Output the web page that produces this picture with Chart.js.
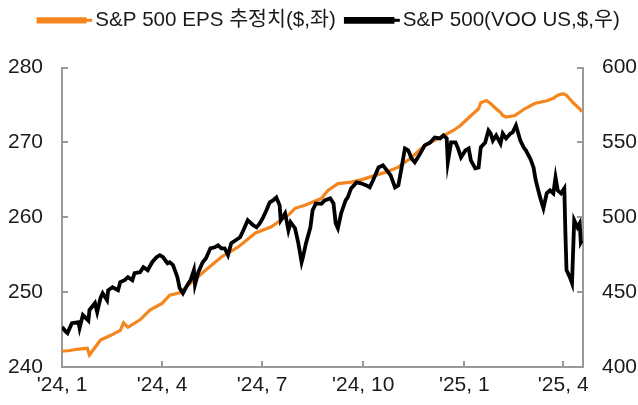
<!DOCTYPE html>
<html>
<head>
<meta charset="utf-8">
<script src="https://cdn.jsdelivr.net/npm/chart.js@4.4.1/dist/chart.umd.min.js"></script>
<style>
html,body{margin:0;padding:0;background:#fff;}
#wrap{width:638px;height:405px;position:relative;}
</style>
</head>
<body>
<div id="wrap"><canvas id="c" width="638" height="405"></canvas></div>
<script>
// x values: days since 2024-01-01
const seriesNames = ["S&P 500 EPS 추정치($,좌)", "S&P 500(VOO US,$,우)"];
const xTickDays = [0, 91, 182, 274, 366, 456];
const xTickLabels = ["'24, 1", "'24, 4", "'24, 7", "'24, 10", "'25, 1", "'25, 4"];

const epsDays = [0,7,15,23,25,30,35,44,53,56,60,71,80,91,98,107,117,127,145,160,176,190,206,212,221,236,242,251,263,272,285,294,306,318,330,342,356,362,370,379,381,386,390,392,395,399,401,404,412,421,430,442,447,451,456,459,465,471,473];
const epsValues = [242.1,242.2,242.4,242.5,241.6,242.6,243.6,244.2,244.9,245.9,245.3,246.3,247.6,248.5,249.6,249.9,251.2,252.5,254.7,256.0,257.9,258.7,260.3,261.2,261.6,262.5,263.6,264.5,264.7,265.0,265.6,266.0,266.7,268.0,269.6,270.5,271.6,272.2,273.3,274.5,275.3,275.6,275.2,274.9,274.5,274.0,273.6,273.4,273.6,274.5,275.2,275.6,275.9,276.3,276.5,276.3,275.3,274.5,274.1];

const vooDays = [0,3,5,9,15,16,19,24,25,30,32,35,37,41,42,46,51,53,57,60,64,66,71,74,78,82,86,89,92,96,98,101,105,107,110,114,117,120,121,124,128,131,135,139,142,145,148,151,154,158,162,165,169,174,177,180,183,186,189,192,195,198,199,203,206,208,212,215,218,219,222,226,228,231,236,239,244,247,249,251,254,258,260,263,268,272,277,280,283,288,292,297,299,303,306,309,312,315,318,321,326,330,335,339,344,347,350,351,354,358,360,363,367,370,372,376,379,381,385,388,390,392,395,399,401,404,408,410,413,417,420,422,426,429,431,435,438,441,444,447,449,451,454,457,458,459,462,464,466,469,471,472,473];
const vooValues = [426.7,424,422.7,429.3,430,426,434.7,431,438,442.7,436.7,446,449.3,444.7,451.3,453.3,451.3,456.7,458,460,458,462.7,463.3,466.7,464.7,470,473.3,474.7,473.3,469.3,470,468,460,452.7,449.3,454.7,458,464.7,455,463.3,470,472.7,479.3,480,481.3,479.3,479.3,474.7,482.7,484.7,486.7,491.3,498,494.7,493.3,496,500,504.7,510,511.3,513.3,508,498,502.7,491.3,496.7,492.7,482.7,470,472.7,482.7,493.3,504.7,509.3,509,511.3,512.7,509.3,496,492.7,502.7,511.3,513.3,519.3,523.3,522.7,521.3,520,524.7,533.3,534.7,530,528,520,521.3,533.3,546,544.7,539.3,536.7,542.7,548,550,553.3,552.7,554.7,552.7,536.7,550,550,546.7,540,544.7,546,538,532.7,533.3,546.7,550,558,556,551.3,554.7,549.3,556,552.7,556,556.7,561.3,551.3,546.7,544.7,539.3,533.3,524.7,513.3,506,516,518,516,526.7,518,516,519.3,489.3,464.7,460,456,498,493.3,496,483.3,484.7];

const FONT = "'Liberation Sans', 'Noto Sans CJK KR', Arial, sans-serif";
const ORANGE = '#F5861F';
const AXIS = '#999999';
const BOXW = 46.7;
const LEG_FONT = 20.6;
const LEG_SHIFT = 10;

const toXY = (xs, ys) => xs.map((d, i) => ({x: d, y: ys[i]}));

const legendTweaks = {
  id: 'legendTweaks',
  beforeInit(chart) {
    const lg = chart.legend;
    const orig = lg.fit;
    lg.fit = function () { orig.call(this); this.height += 27; };
  },
  afterLayout(chart) {
    const lg = chart.legend;
    lg.left += LEG_SHIFT; lg.right += LEG_SHIFT;
  },
  // extend legend line samples toward the text
  afterDraw(chart) {
    const lg = chart.legend, ctx = chart.ctx;
    if (!lg || !lg.legendHitBoxes) return;
    ctx.save();
    lg.legendHitBoxes.forEach((hb, i) => {
      const item = lg.legendItems[i];
      ctx.fillStyle = item.fillStyle;
      const y = hb.top + (hb.height - 3) / 2;
      ctx.fillRect(hb.left, y, BOXW + LEG_FONT / 2 - 3, 3);
    });
    ctx.restore();
  }
};

const innerTicks = {
  id: 'innerTicks',
  afterDraw(chart) {
    const ctx = chart.ctx, a = chart.chartArea;
    ctx.save();
    ctx.strokeStyle = AXIS;
    ctx.lineWidth = 2;
    const L = 6;
    const xs = chart.scales.x, yl = chart.scales.yL, yr = chart.scales.yR;
    xs.ticks.forEach(t => {
      const px = Math.round(xs.getPixelForValue(t.value));
      ctx.beginPath(); ctx.moveTo(px, a.bottom); ctx.lineTo(px, a.bottom - L); ctx.stroke();
    });
    yl.ticks.forEach(t => {
      const py = Math.round(yl.getPixelForValue(t.value));
      ctx.beginPath(); ctx.moveTo(a.left, py); ctx.lineTo(a.left + L, py); ctx.stroke();
    });
    yr.ticks.forEach(t => {
      const py = Math.round(yr.getPixelForValue(t.value));
      ctx.beginPath(); ctx.moveTo(a.right, py); ctx.lineTo(a.right - L, py); ctx.stroke();
    });
    ctx.restore();
  }
};

new Chart(document.getElementById('c'), {
  type: 'line',
  data: {
    datasets: [
      {
        label: seriesNames[0],
        data: toXY(epsDays, epsValues),
        borderColor: ORANGE, backgroundColor: ORANGE,
        borderWidth: 3.2, pointRadius: 0, tension: 0,
        yAxisID: 'yL', order: 1
      },
      {
        label: seriesNames[1],
        data: toXY(vooDays, vooValues),
        borderColor: '#000', backgroundColor: '#000',
        borderWidth: 3.8, pointRadius: 0, tension: 0,
        yAxisID: 'yR', order: 0
      }
    ]
  },
  options: {
    responsive: false,
    animation: false,
    devicePixelRatio: 1,
    layout: { padding: { left: 0, right: 0, top: 0, bottom: 0 } },
    plugins: {
      legend: {
        position: 'top',
        align: 'center',
        labels: {
          boxWidth: BOXW, boxHeight: 3,
          color: '#1a1a1a',
          font: { family: FONT, size: LEG_FONT },
          padding: 10,
          sort: (a, b) => a.datasetIndex - b.datasetIndex
        }
      },
      tooltip: { enabled: false }
    },
    scales: {
      x: {
        type: 'linear', min: 0, max: 474,
        afterBuildTicks: s => { s.ticks = xTickDays.map(v => ({value: v})); },
        afterFit: s => { s.height = 38; },
        ticks: {
          autoSkip: false, maxRotation: 0,
          color: '#1a1a1a', font: { family: FONT, size: 21 }, padding: 6,
          callback: v => { const i = xTickDays.indexOf(v); return i >= 0 ? xTickLabels[i] : ''; }
        },
        grid: { drawOnChartArea: false, drawTicks: false },
        border: { color: AXIS, width: 2 }
      },
      yL: {
        position: 'left', min: 240, max: 280,
        afterFit: s => { s.width = 62; },
        ticks: { stepSize: 10, color: '#1a1a1a', font: { family: FONT, size: 21 }, padding: 19 },
        grid: { drawOnChartArea: false, drawTicks: false },
        border: { color: AXIS, width: 2 }
      },
      yR: {
        position: 'right', min: 400, max: 600,
        afterFit: s => { s.width = 55; },
        ticks: { stepSize: 50, color: '#1a1a1a', font: { family: FONT, size: 21 }, padding: 19 },
        grid: { drawOnChartArea: false, drawTicks: false },
        border: { color: AXIS, width: 2 }
      }
    }
  },
  plugins: [legendTweaks, innerTicks]
});
</script>
</body>
</html>
